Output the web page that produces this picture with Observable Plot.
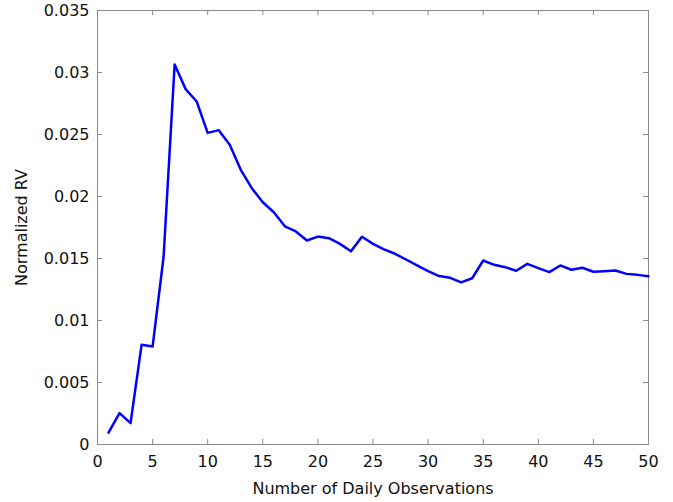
<!DOCTYPE html>
<html><head><meta charset="utf-8">
<script src="https://cdn.jsdelivr.net/npm/d3@7"></script>
<script src="https://cdn.jsdelivr.net/npm/@observablehq/plot@0.6"></script>
<style>body{margin:0;background:#fff}</style>
</head><body><div id="chart"></div>
<script>
const observations = [1,2,3,4,5,6,7,8,9,10,11,12,13,14,15,16,17,18,19,20,21,22,23,24,25,26,27,28,29,30,31,32,33,34,35,36,37,38,39,40,41,42,43,44,45,46,47,48,49,50];
const normalizedRV = [0.00095,0.00253,0.00172,0.00804,0.00790,0.01516,0.03065,0.02866,0.02766,0.02513,0.02535,0.02417,0.02215,0.02067,0.01954,0.01873,0.01760,0.01718,0.01645,0.01677,0.01664,0.01618,0.01559,0.01675,0.01618,0.01573,0.01538,0.01492,0.01444,0.01398,0.01358,0.01344,0.01308,0.01341,0.01484,0.01449,0.01430,0.01401,0.01457,0.01422,0.01390,0.01444,0.01409,0.01425,0.01393,0.01398,0.01403,0.01376,0.01368,0.01357];
const xTicks = [0,5,10,15,20,25,30,35,40,45,50];
const yTicks = [0,0.005,0.01,0.015,0.02,0.025,0.03,0.035];
const xLabel = "Number of Daily Observations";
const yLabel = "Normalized RV";

const data = observations.map((x, i) => ({x, y: normalizedRV[i]}));
const W = 673, H = 502, mL = 97, mR = 25, mT = 10, mB = 58;
const innerW = W - mL - mR, innerH = H - mT - mB;
const tickLen = 5;
const grey = "#8a8a8a";

const chart = Plot.plot({
  width: W, height: H,
  marginLeft: mL, marginRight: mR, marginTop: mT, marginBottom: mB,
  style: {fontFamily: "DejaVu Sans", fontSize: "16px", color: "#111", background: "#fff"},
  x: {domain: [0, 50]},
  y: {domain: [0, 0.035]},
  marks: [
    Plot.frame({stroke: grey}),
    Plot.tickX(xTicks, {x: d => d, stroke: grey, insetTop: innerH - tickLen}),
    Plot.tickX(xTicks, {x: d => d, stroke: grey, insetBottom: innerH - tickLen}),
    Plot.tickY(yTicks, {y: d => d, stroke: grey, insetRight: innerW - tickLen}),
    Plot.tickY(yTicks, {y: d => d, stroke: grey, insetLeft: innerW - tickLen}),
    Plot.axisX({ticks: xTicks, tickSize: 0, tickPadding: 11, tickFormat: d => String(d),
      label: xLabel, labelAnchor: "center", labelOffset: 49, labelArrow: "none", fontSize: 16}),
    Plot.axisY({ticks: yTicks, tickSize: 0, tickPadding: 8, tickFormat: d => String(d),
      label: yLabel, labelAnchor: "center", labelOffset: 82, labelArrow: "none"}),
    Plot.line(data, {x: "x", y: "y", stroke: "#0000ff", strokeWidth: 2.5})
  ]
});
document.getElementById("chart").appendChild(chart);
</script>
</body></html>
